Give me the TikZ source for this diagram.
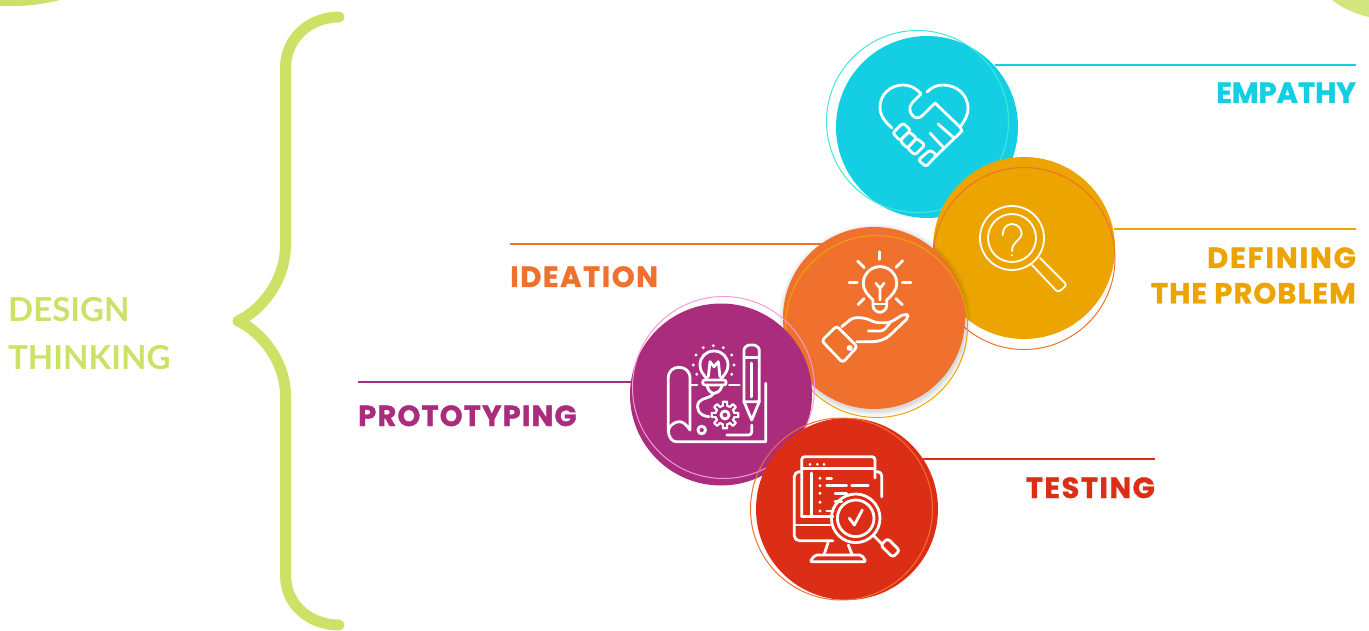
\documentclass[tikz,border=0pt]{standalone}
\usepackage{fontspec}
\setmainfont{Poppins}
\newfontfamily\softfont{Lato}
\newfontfamily\headfont{Poppins}[UprightFont=*,BoldFeatures={FakeBold=1.2}]
\definecolor{cempathy}{HTML}{14CFE3}
\definecolor{cdefining}{HTML}{ECA500}
\definecolor{cideation}{HTML}{F0702D}
\definecolor{cproto}{HTML}{AA2C7D}
\definecolor{ctesting}{HTML}{DC2E17}
\definecolor{cgreen}{HTML}{CBE266}
\definecolor{cturq}{HTML}{3FE8D8}
\definecolor{cpink}{HTML}{F59AD8}
\begin{document}
\begin{tikzpicture}[x=1pt,y=-1pt,
  disc/.style={circle,inner sep=0pt,minimum size=182pt,fill=#1},
  rim/.style={circle,inner sep=0pt,minimum size=182pt,draw=#1,line width=1pt},
  rule/.style={draw=#1,line width=1.2pt},
  title/.style={inner sep=0pt,font=\headfont\bfseries\fontsize{29}{29}\selectfont,text=#1},
  icon/.style={draw=white,line width=2.8pt,line cap=round,line join=round},
  thin icon/.style={draw=white,line width=1.8pt,line cap=round,line join=round}]
\useasboundingbox (0,0) rectangle (1369,631);

% corners
\fill[cgreen] (0,0) -- (60,0) .. controls (40,5) and (20,7) .. (0,6) -- cycle;
\fill[cgreen!85!white] (1332,0) .. controls (1342,8) and (1355,14) .. (1369,17) -- (1369,0) -- cycle;

% brace
\draw[cgreen,line width=11pt,line cap=round,line join=round]
  (339,17) .. controls (310,17) and (285.5,38) .. (285.5,68) -- (285.5,245)
  .. controls (285.5,280) and (262,310) .. (238,321)
  .. controls (262,332) and (285.5,362) .. (285.5,396) -- (285.5,575)
  .. controls (285.5,605) and (310,625) .. (339,625);
\node[anchor=base west,inner sep=0pt,text=cgreen,font=\softfont\bfseries\fontsize{33}{33}\selectfont] (design) at (8,321) {DESIGN};
\node[anchor=base west,inner sep=0pt,text=cgreen,font=\softfont\bfseries\fontsize{33}{33}\selectfont] (thinking) at (8,369) {THINKING};

% circles
\node[disc=cempathy] (empathy) at (927,127) {};
\node[rim=cturq] (empathyrim) at (917.5,121.5) {};
\node[disc=cdefining] (defining) at (1024,248) {};
\node[rim=cideation] (definingrim) at (1024,258.5) {};
\fill[black,opacity=.04] (875,320) circle (96);
\fill[black,opacity=.05] (875,320) circle (94);
\fill[black,opacity=.06] (875,320) circle (92);
\node[disc=cideation] (ideation) at (874,318) {};
\node[rim=cdefining] (ideationrim) at (876.5,326.5) {};
\node[disc=cproto] (proto) at (721,394.5) {};
\node[rim=cpink] (protorim) at (723.5,387.5) {};
\node[disc=ctesting] (testing) at (847,509) {};
\node[rim=cideation] (testingrim) at (841.5,509) {};

% rules
\coordinate (empathyend) at (1356,65);
\coordinate (definingend) at (1356,229);
\coordinate (ideationend) at (510,244);
\coordinate (protoend) at (358,382);
\coordinate (testingend) at (1155,459);
\draw[rule=cempathy] (empathy.42.5 |- empathyend) -- (empathyend);
\draw[rule=cdefining] (defining.11.7 |- definingend) -- (definingend);
\draw[rule=cideation] (ideation.125 |- ideationend) -- (ideationend);
\draw[rule=cproto] (proto.171.8 |- protoend) -- (protoend);
\draw[rule=ctesting] (testing.33.3 |- testingend) -- (testingend);

% labels
\node[title=cempathy,anchor=base east] (lempathy) at (1356,103) {EMPATHY};
\node[title=cdefining,anchor=base east] (ldefining) at (1356,268) {\addfontfeature{LetterSpace=6.5}DEFINING};
\node[title=cdefining,anchor=base east] (lproblem) at (1356,303.5) {\addfontfeature{LetterSpace=3.7}THE PROBLEM};
\node[title=cideation,anchor=base west] (lideation) at (510,287) {\addfontfeature{LetterSpace=5.3}IDEATION};
\node[title=cproto,anchor=base west] (lproto) at (358,426) {\addfontfeature{LetterSpace=4}PROTOTYPING};
\node[title=ctesting,anchor=base east] (ltesting) at (1155,498) {\addfontfeature{LetterSpace=5}TESTING};

% heart
\draw[icon] (892,128) .. controls (884,121) and (880,115) .. (880,107) .. controls (880,94) and (891,85) .. (903,85) .. controls (910,85) and (916,88) .. (921,94)
  -- (912,103) .. controls (908,108) and (910,113) .. (913,116) .. controls (916,119) and (920,118) .. (923,115) -- (935,103) -- (960,127) -- (962,131) -- (935,157);
\draw[icon] (927,92) .. controls (932,87) and (937,85) .. (943,85) .. controls (957,85) and (968,95) .. (968,108) .. controls (968,116) and (964,122) .. (960,127);
\draw[icon,rounded corners=2.5pt] (892.7,133) -- (903,123) -- (910.7,130) -- (900,140.7) -- cycle;
\draw[icon,rounded corners=2.5pt] (900,140.7) -- (909,131.7) -- (916.7,138) -- (907.3,148.3) -- cycle;
\draw[icon,rounded corners=2.5pt] (907.3,148.3) -- (916.7,138.3) -- (925,145) -- (915,155) -- cycle;
\draw[icon,rounded corners=2.5pt] (918.3,160) -- (930,150) -- (936.7,155) -- (926,166.7) -- cycle;
\draw[icon] (930,133) -- (943,147);
\draw[icon] (938,124) -- (953,137);

% magnifier
\draw[thin icon] (1012,238) circle (32);
\draw[thin icon] (1012,238) circle (24);
\draw[thin icon] (1002.7,235) .. controls (1002.7,228) and (1007,224) .. (1012,224) .. controls (1018,224) and (1021.7,229) .. (1021.7,234) .. controls (1021.7,240) and (1012,241) .. (1012,251);
\fill[white] (1012,255.3) circle (1);
\draw[thin icon,rounded corners=3pt] (1032,265) -- (1058,292.5) -- (1067,285) -- (1040,258);

% bulb and hand
\draw[icon] (879.7,251.7) -- (879.7,259.3);
\draw[icon] (857.7,261) -- (864.3,267.7);
\draw[icon] (902.7,260.7) -- (896,267.3);
\draw[icon] (849,282.3) -- (857.3,282.3);
\draw[icon] (902.3,282.3) -- (911,282.3);
\draw[icon] (858,304.7) -- (864,298.7);
\draw[icon] (902.3,304.7) -- (896,298.7);
\draw[icon] (873,300) .. controls (868,295) and (863.3,291) .. (863.3,283) .. controls (863.3,274) and (871,266.6) .. (880,266.6) .. controls (889,266.6) and (896.7,274) .. (896.7,283) .. controls (896.7,291) and (892,295) .. (886.7,300);
\draw[icon,rounded corners=3pt] (873,300) -- (873,309) -- (880,313.3) -- (886.7,309) -- (886.7,300);
\draw[icon] (876,283.3) -- (880,288.3) -- (884,283.3) (880,288.3) -- (880,300);
\draw[icon] (874,304) -- (886,304);
\draw[icon,rounded corners=3pt] (821.7,340.7) -- (836.7,326) -- (857.3,346.7) -- (842.7,362.7) -- cycle;
\fill[white] (849.7,348) circle (3);
\draw[icon,rounded corners=4pt] (841.7,326.7) -- (853.3,317.3) -- (866.7,318.3) -- (875,322.7) -- (890,322.7) -- (905,313.3) -- (909.3,316.7) -- (886.7,338.3) -- (876.7,341.7) -- (856.7,341.7);
\draw[icon,rounded corners=3pt] (868.3,331) -- (883.3,331) -- (890,322.7);

% blueprint
\draw[icon] (668.3,430) -- (668.3,378.3) .. controls (668.3,371) and (673,367.3) .. (679,367.3) .. controls (685,367.3) and (690,371) .. (690,378.3) -- (690,430) .. controls (686,424) and (683,421.7) .. (679,421.7) .. controls (675,421.7) and (670,425) .. (668.3,430)
  .. controls (668.3,437) and (672,441.7) .. (676,441.7) -- (765.7,441.7) -- (765.7,383.3);
\draw[icon,rounded corners=3pt] (726.7,435) -- (751.7,435) -- (751.7,425);
\draw[icon] (690,385) -- (697,385);
\draw[icon] (729.3,385) -- (739.3,385);
\draw[icon] (707,379) .. controls (703,374) and (700,371) .. (700,365) .. controls (700,357) and (706,351) .. (714,351) .. controls (722,351) and (728,357) .. (728,365) .. controls (728,371) and (725,374) .. (721,379);
\draw[icon,rounded corners=2pt] (702.7,380) -- (726,380) -- (726,385) -- (702.7,385) -- cycle;
\draw[icon] (707,385) .. controls (708,391) and (711,393) .. (714,393.3) .. controls (720,393) and (722,387) .. (722,385);
\draw[icon] (714,393.3) .. controls (710,399) and (703,397) .. (699,402) .. controls (695,408) and (699,416) .. (709,416.7);
\draw[icon] (708.3,376.7) -- (710,361.7) -- (714,366.7) -- (718.3,361.7) -- (720,376.7);
\foreach \dotx/\doty in {713.3/345.7,703.3/347.7,723.3/347.7,696/355,731.7/355,693.3/365,734/365,696.7/374.3,731.7/374.3}
  \fill[white] (\dotx,\doty) circle (1.6);
\begin{scope}[shift={(725,415)}]
\draw[icon,line width=2.2pt] (-13:9.5) \foreach \a in {0,45,...,315} { -- (\a-9:13.5) -- (\a+9:13.5) -- (\a+13:9.5) -- (\a+32:9.5)} -- cycle;
\draw[icon] (0,0) circle (4);
\end{scope}
\draw[icon] (701.7,430) circle (3.8);
\draw[icon,rounded corners=2pt] (744,401.7) -- (744,352) .. controls (744,347) and (748,345) .. (751.7,345) .. controls (755,345) and (759.3,347) .. (759.3,352) -- (759.3,401.7);
\draw[icon] (744,401.7) -- (751.7,420) -- (759.3,401.7) -- cycle;
\draw[icon] (744,357.3) -- (759.3,357.3);
\draw[icon] (751.7,363) -- (751.7,397);

% monitor
\draw[icon,rounded corners=3pt] (801.7,516.7) -- (801.7,456.7) -- (875,456.7) -- (875,478);
\draw[icon] (801.7,468.3) -- (875,468.3);
\draw[icon] (801.7,516.7) -- (833,516.7);
\draw[icon] (811.7,473) -- (811.7,516.7);
\foreach \dotx in {810,817.3,824} \fill[white] (\dotx,464.3) circle (1.5);
\draw[icon,rounded corners=5pt] (801,471.7) -- (794.3,471.7) -- (794.3,540.7) -- (833,540.7);
\draw[icon,rounded corners=4pt] (875,471.7) -- (881.7,471.7) -- (881.7,497);
\draw[icon] (796,525) -- (830,525);
\draw[icon] (828.3,541.7) -- (824,555);
\draw[icon] (848.3,545) -- (852.3,555);
\draw[icon,rounded corners=2pt] (815,555) -- (861.7,555) -- (866,561.7) -- (810,561.7) -- cycle;
\foreach \dotx/\doty in {820/478.3,820/485.7,820/493.3,820/502.3,820/511} \fill[white] (\dotx,\doty) circle (1.6);
\draw[icon] (826.7,478.3) -- (831.7,478.3);
\draw[icon] (826.7,485.7) -- (846.7,485.7);
\draw[icon] (851.7,485.7) -- (868.3,485.7);
\draw[icon] (835,493.3) -- (846.7,493.3);
\draw[icon] (835,501.7) -- (841.7,501.7);
\draw[icon] (826.7,511) -- (833.3,511);
\draw[icon] (855.7,518.3) circle (24.3);
\draw[icon] (855.7,518.3) circle (18.3);
\draw[icon] (849.3,518.3) -- (854.3,525) -- (862.3,510);
\draw[icon] (874,536) -- (882,544);
\draw[icon,rounded corners=3pt] (880.7,545.3) -- (887.6,538.4) -- (899.7,550.5) -- (892.8,557.4) -- cycle;
\end{tikzpicture}
\end{document}
